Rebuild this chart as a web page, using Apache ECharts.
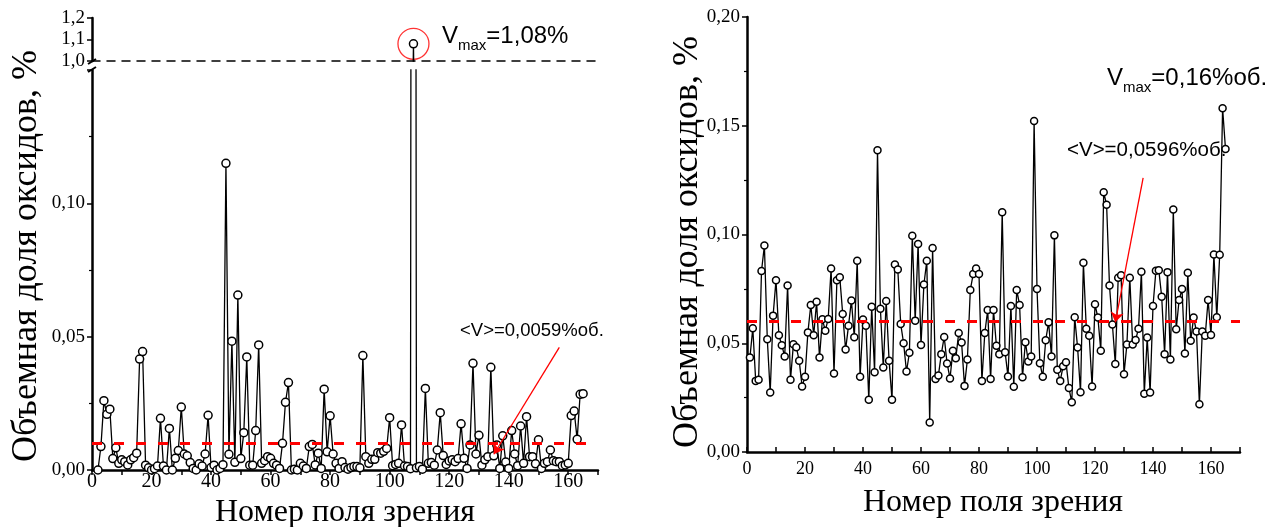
<!DOCTYPE html>
<html>
<head>
<meta charset="utf-8">
<script src="https://cdn.jsdelivr.net/npm/echarts@6/dist/echarts.min.js"></script>
<style>
  html, body { margin: 0; padding: 0; background: #ffffff; }
  #chart { width: 1281px; height: 527px; }
</style>
</head>
<body>
<div id="chart"></div>
<script>
// ---- data -------------------------------------------------------------
// Left panel: oxide volume fraction (%) per field of view, fields 2..165
const leftFirstField = 2;
const leftValues = [
  0, 0.0088, 0.026, 0.0209, 0.0228, 0.0043, 0.0083, 0.0025, 0.0038, 0.0031,
  0.0019, 0.0038, 0.0046, 0.0063, 0.0416, 0.0444, 0.0018, 0.0008, 0, 0.0005,
  0.0015, 0.0194, 0.0015, 0, 0.0156, 0, 0.0044, 0.0073, 0.0236, 0.006,
  0.0053, 0.0028, 0.0006, 0, 0.0023, 0.0015, 0.006, 0.0205, 0.0009, 0.0018,
  0, 0.0006, 0.002, 0.115, 0.0059, 0.0483, 0.0029, 0.0656, 0.0043, 0.014,
  0.0424, 0.0018, 0.0018, 0.0148, 0.0469, 0.0025, 0.0035, 0.005, 0.0044, 0.0025,
  0.0018, 0.0006, 0.01, 0.0254, 0.0328, 0, 0.0003, 0, 0.0025, 0.0015,
  0.0006, 0.0088, 0.0096, 0.0019, 0.0063, 0.0006, 0.0303, 0.0068, 0.0203, 0.006,
  0.0025, 0.0006, 0.0031, 0.0009, 0.0003, 0.0009, 0.0013, 0.0013, 0.0008, 0.0429,
  0.005, 0.0025, 0.004, 0.004, 0.0065, 0.0063, 0.007, 0.0081, 0.0196, 0.0016,
  0.0021, 0.0025, 0.0169, 0.0015, 0.0013, 0.0005, 1.08, 0.0008, 0.0013, 0.0003,
  0.0306, 0.0025, 0.0028, 0.0018, 0.0075, 0.0215, 0.0054, 0.0021, 0.0034, 0.0038,
  0.0031, 0.0043, 0.0173, 0.0044, 0.0006, 0.0094, 0.04, 0.006, 0.013, 0.0018,
  0.0038, 0.005, 0.0385, 0.0053, 0.0094, 0.0006, 0.0128, 0.003, 0.0006, 0.0148,
  0.006, 0.0016, 0.0165, 0.0025, 0.02, 0.005, 0.005, 0.0023, 0.0113, 0.0006,
  0.0025, 0.0031, 0.0075, 0.0035, 0.0031, 0.0031, 0.0016, 0.0019, 0.0025, 0.0204,
  0.0221, 0.0115, 0.0284, 0.0286
];
const leftMean = 0.0059;

// Right panel: oxide volume fraction (% vol.) per field of view, fields 1..165
const rightFirstField = 1;
const rightValues = [
  0.0434, 0.0569, 0.0327, 0.0332, 0.0832, 0.0949, 0.0518, 0.0274, 0.0627, 0.079,
  0.0537, 0.0491, 0.0439, 0.0765, 0.0332, 0.0495, 0.0482, 0.042, 0.0301, 0.0346,
  0.055, 0.0676, 0.0537, 0.0691, 0.0434, 0.061, 0.0558, 0.0612, 0.0844, 0.0361,
  0.079, 0.0803, 0.0635, 0.0471, 0.058, 0.0697, 0.0528, 0.0879, 0.0346, 0.0609,
  0.0581, 0.024, 0.0668, 0.0367, 0.1387, 0.0659, 0.0388, 0.0694, 0.0419, 0.024,
  0.0862, 0.0839, 0.0589, 0.05, 0.037, 0.0456, 0.0994, 0.0604, 0.0956, 0.0492,
  0.077, 0.0879, 0.0136, 0.0938, 0.0336, 0.0352, 0.045, 0.0529, 0.0407, 0.0338,
  0.0465, 0.0431, 0.0547, 0.0503, 0.0304, 0.0425, 0.0745, 0.0818, 0.0844, 0.0818,
  0.0327, 0.0547, 0.0653, 0.0336, 0.0653, 0.0489, 0.045, 0.1102, 0.0459, 0.0347,
  0.0671, 0.03, 0.0745, 0.0676, 0.0344, 0.0505, 0.0416, 0.0439, 0.1522, 0.0749,
  0.0408, 0.0346, 0.0514, 0.0596, 0.0439, 0.0996, 0.0378, 0.0327, 0.0394, 0.0413,
  0.0294, 0.0229, 0.0619, 0.048, 0.0275, 0.087, 0.0567, 0.0535, 0.0301, 0.0679,
  0.0618, 0.0466, 0.1194, 0.1137, 0.0765, 0.0586, 0.0405, 0.0801, 0.0813, 0.0358,
  0.0494, 0.0801, 0.0494, 0.0515, 0.0567, 0.0829, 0.0268, 0.0526, 0.0274, 0.0671,
  0.0833, 0.0836, 0.0714, 0.045, 0.0827, 0.0425, 0.1115, 0.0564, 0.0699, 0.0749,
  0.0453, 0.0824, 0.0511, 0.0618, 0.0554, 0.0219, 0.0554, 0.0534, 0.0699, 0.0538,
  0.0908, 0.0619, 0.0907, 0.158, 0.1393
];
const rightMean = 0.0596;

// Axis tick values
const xTickStep = 10;
const xLabelStep = 20;
const leftLowerTicks = [0, 0.05, 0.10, 0.15];
const leftUpperTicks = [1.0, 1.1, 1.2];
const rightTicks = [0, 0.05, 0.10, 0.15, 0.20];

// Annotation texts
const yTitle = 'Объемная доля оксидов, %';
const xTitle = 'Номер поля зрения';
const leftMeanText = '<V>=0,0059%об.';
const rightMeanText = '<V>=0,0596%об.';

// ---- helpers ------------------------------------------------------------
const toPairs = (first, vals) => vals.map((v, k) => [first + k, v]);
const leftData = toPairs(leftFirstField, leftValues);
const rightData = toPairs(rightFirstField, rightValues);
const comma = (v, d) => v.toFixed(d).replace('.', ',');

const leftMaxIdx = leftValues.indexOf(Math.max(...leftValues));
const leftMaxPoint = leftData[leftMaxIdx];

const SERIF = 'Liberation Serif';
const SANS = 'Liberation Sans';

const chart = echarts.init(document.getElementById('chart'), null, { renderer: 'canvas' });

function xAxisCommon(gridIndex, inside, fontSize, margin) {
  return {
    type: 'value', gridIndex, min: 0, max: 170, interval: xTickStep,
    axisLine: { show: true, onZero: false, lineStyle: { color: '#000', width: 2.5 } },
    axisTick: { show: true, inside, length: 5, lineStyle: { color: '#000', width: 1.5 } },
    axisLabel: {
      color: '#000', fontFamily: SERIF, fontSize, margin,
      formatter: v => (v % xLabelStep === 0 && v < 170 ? String(v) : '')
    },
    splitLine: { show: false }
  };
}

function yAxisCommon(gridIndex, min, max, interval, digits, fontSize, hideAbove) {
  return {
    type: 'value', gridIndex, min, max, interval,
    axisLine: { show: true, onZero: false, lineStyle: { color: '#000', width: 2.5 } },
    axisTick: { show: true, length: 5, lineStyle: { color: '#000', width: 1.5 } },
    minorTick: { show: digits === 2, splitNumber: 2, length: 3, lineStyle: { color: '#000', width: 1.2 } },
    axisLabel: {
      color: '#000', fontFamily: SERIF, fontSize, margin: 7,
      formatter: v => (hideAbove !== undefined && v > hideAbove ? '' : comma(v, digits))
    },
    splitLine: { show: false }
  };
}

const lineSeriesStyle = (size) => ({
  type: 'line',
  symbol: 'circle',
  symbolSize: size,
  showAllSymbol: true,
  clip: true,
  itemStyle: { color: '#fff', borderColor: '#000', borderWidth: 1.5 },
  lineStyle: { color: '#000', width: 1.3 },
  emphasis: { disabled: true },
  animation: false
});

const meanLineStyle = { color: '#ff0000', width: 3, type: [10, 12] };
const arrowStyle = { color: '#ff0000', width: 1.3, type: 'solid' };

const titleStyle = (text, size) => ({
  text, fontSize: size, fontFamily: SERIF, fontWeight: 'normal', fill: '#000',
  align: 'center', verticalAlign: 'middle'
});
const vmaxRich = {
  v: { fontSize: 24, fontFamily: SANS, fill: '#000', verticalAlign: 'middle' },
  s: { fontSize: 15, fontFamily: SANS, fill: '#000', verticalAlign: 'top', padding: [18, 0, 0, 0] }
};

const option = {
  backgroundColor: '#ffffff',
  animation: false,
  grid: [
    { left: 92, top: 18, width: 506, height: 43 },   // left panel, 1.0–1.2
    { left: 92, top: 70, width: 506, height: 400 },  // left panel, 0–0.15
    { left: 747, top: 17, width: 493, height: 435 }  // right panel
  ],
  xAxis: [
    {
      type: 'value', gridIndex: 0, min: 0, max: 170,
      axisLine: { show: true, onZero: false, lineStyle: { color: '#000', width: 1.5, type: [8, 7] } },
      axisTick: { show: false }, axisLabel: { show: false }, splitLine: { show: false }
    },
    xAxisCommon(1, false, 20, 2),
    xAxisCommon(2, true, 18, 8)
  ],
  yAxis: [
    yAxisCommon(0, leftUpperTicks[0], leftUpperTicks[2], 0.1, 1, 19),
    yAxisCommon(1, leftLowerTicks[0], leftLowerTicks[3], 0.05, 2, 19, 0.12),
    yAxisCommon(2, rightTicks[0], rightTicks[4], 0.05, 2, 19)
  ],
  series: [
    Object.assign(lineSeriesStyle(8), { name: 'left-upper', xAxisIndex: 0, yAxisIndex: 0, data: leftData }),
    Object.assign(lineSeriesStyle(8), {
      name: 'left-lower', xAxisIndex: 1, yAxisIndex: 1, data: leftData,
      markLine: {
        silent: true, animation: false, symbol: ['none', 'none'], label: { show: false },
        data: [
          { yAxis: leftMean, lineStyle: meanLineStyle },
          [
            { coord: [157, 0.046], symbol: 'none', lineStyle: arrowStyle },
            { coord: [135, leftMean], symbol: 'arrow', symbolSize: 10 }
          ]
        ]
      }
    }),
    {
      name: 'left-max', type: 'scatter', xAxisIndex: 0, yAxisIndex: 0,
      data: [leftMaxPoint], symbol: 'circle', symbolSize: 31, silent: true,
      itemStyle: { color: 'rgba(0,0,0,0)', borderColor: '#ff0000', borderWidth: 1.3 },
      z: 1
    },
    Object.assign(lineSeriesStyle(7), {
      name: 'right', xAxisIndex: 2, yAxisIndex: 2, data: rightData,
      markLine: {
        silent: true, animation: false, symbol: ['none', 'none'], label: { show: false },
        data: [
          { yAxis: rightMean, lineStyle: meanLineStyle },
          [
            { coord: [136.6, 0.126], symbol: 'none', lineStyle: arrowStyle },
            { coord: [127, rightMean], symbol: 'arrow', symbolSize: 10 }
          ]
        ]
      }
    })
  ],
  graphic: [
    // axis titles
    { id: 'yTitleLeft', type: 'text', x: 27, y: 256, rotation: Math.PI / 2, style: titleStyle(yTitle, 36) },
    { id: 'yTitleRight', type: 'text', x: 688, y: 242, rotation: Math.PI / 2, style: titleStyle(yTitle, 36) },
    { id: 'xTitleLeft', type: 'text', x: 345, y: 513, style: titleStyle(xTitle, 32) },
    { id: 'xTitleRight', type: 'text', x: 993, y: 503, style: titleStyle(xTitle, 32) },
    // maximum value notes
    { id: 'vmaxLeft', type: 'text', x: 442, y: 20,
      style: {
        text: '{v|V}{s|max}{v|=' + comma(leftMaxPoint[1], 2) + '%}',
        fill: '#000', align: 'left', verticalAlign: 'top', rich: vmaxRich
      } },
    { id: 'vmaxRight', type: 'text', x: 1107, y: 62,
      style: {
        text: '{v|V}{s|max}{v|=' + comma(Math.max(...rightValues), 2) + '%об.}',
        fill: '#000', align: 'left', verticalAlign: 'top', rich: vmaxRich
      } },
    // mean value notes
    { id: 'meanLeft', type: 'text', x: 460, y: 331,
      style: { text: leftMeanText, fontSize: 18.5, fontFamily: SANS, fill: '#000', align: 'left', verticalAlign: 'middle' } },
    { id: 'meanRight', type: 'text', x: 1067, y: 150,
      style: { text: rightMeanText, fontSize: 20.5, fontFamily: SANS, fill: '#000', align: 'left', verticalAlign: 'middle' } }
  ]
};

chart.setOption(option);

// axis break strokes between the two left-hand value ranges
const breakTop = chart.convertToPixel({ yAxisIndex: 0 }, leftUpperTicks[0]);
const breakBottom = chart.convertToPixel({ yAxisIndex: 1 }, leftLowerTicks[3]);
const axisX = chart.convertToPixel({ xAxisIndex: 1 }, 0);
chart.setOption({
  graphic: [
    { id: 'breakUpper', type: 'line',
      shape: { x1: axisX - 4, y1: breakTop + 3, x2: axisX + 4, y2: breakTop - 2 },
      style: { stroke: '#000', lineWidth: 2 } },
    { id: 'breakLower', type: 'line',
      shape: { x1: axisX - 4, y1: breakBottom + 2, x2: axisX + 4, y2: breakBottom - 3 },
      style: { stroke: '#000', lineWidth: 2 } }
  ]
});
</script>
</body>
</html>
